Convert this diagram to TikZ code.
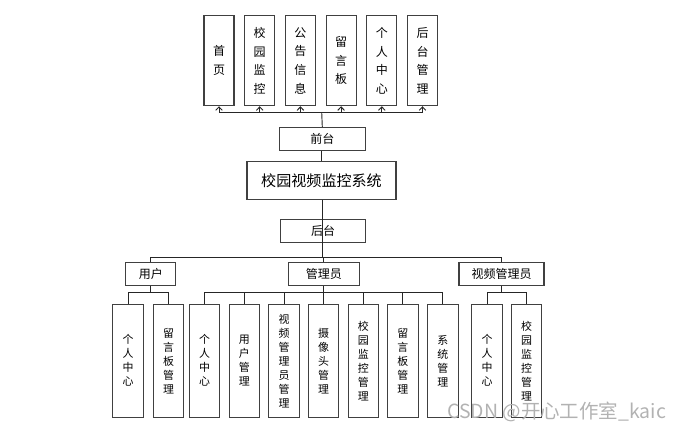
\documentclass[tikz,border=0pt]{standalone}
\usepackage{fontspec}
\setmainfont{Noto Sans CJK SC}
\usetikzlibrary{arrows.meta}
\begin{document}
\begin{tikzpicture}[x=0.75pt, y=-0.75pt,
			box/.style   = {draw=black!75, line width=0.8pt, rectangle, inner sep=0pt, align=center},
			head/.style  = {box, minimum height=23pt*0.75, font=\fontsize{9pt}{11pt}\selectfont},
			title/.style = {box, minimum width=149pt*0.75, minimum height=37.6pt*0.75, font=\fontsize{11.3pt}{13pt}\selectfont},
			page/.style  = {box, minimum width=30pt*0.75, minimum height=90pt*0.75, font=\fontsize{9pt}{14pt}\selectfont},
			leaf/.style  = {box, minimum width=30.5pt*0.75, minimum height=113.3pt*0.75, font=\fontsize{8.2pt}{10.5pt}\selectfont},
			link/.style  = {draw=black!85, line width=0.7pt},
			>={Straight Barb[length=2.6pt,width=5pt]}]
	\useasboundingbox (0,0) rectangle (680,433);

	% front end pages
	\node[page] (t1) at (219,60.7)   {首\\页};
	\node[page] (t2) at (259.7,60.7) {校\\园\\监\\控};
	\node[page] (t3) at (300.4,60.7) {公\\告\\信\\息};
	\node[page] (t4) at (341.1,60.7) {留\\言\\板};
	\node[page] (t5) at (381.8,60.7) {个\\人\\中\\心};
	\node[page] (t6) at (422.5,60.7) {后\\台\\管\\理};

	% spine of the system
	\node[head, minimum width=85.5pt*0.75] (qt) at (322.3,139) {前台};
	\node[title] (sys) at (321.5,180.5) {校园视频监控系统};
	\node[head, minimum width=85pt*0.75] (ht) at (323,230.7) {后台};

	% roles
	\node[head, minimum width=50.3pt*0.75] (r1) at (150.8,274.3) {用户};
	\node[head, minimum width=71pt*0.75]   (r2) at (323.8,274.3) {管理员};
	\node[head, minimum width=85pt*0.75]   (r3) at (501.5,274.3) {视频管理员};

	% functions of each role
	\begin{scope}[every node/.style={leaf}]
		\node (r11) at (128,360.7)   {个\\人\\中\\心};
		\node (r12) at (168.7,360.7) {留\\言\\板\\管\\理};

		\node (r21) at (204.7,360.7) {个\\人\\中\\心};
		\node (r22) at (244.3,360.7) {用\\户\\管\\理};
		\node (r23) at (284,360.7)   {视\\频\\管\\理\\员\\管\\理};
		\node (r24) at (323.5,360.7) {摄\\像\\头\\管\\理};
		\node (r25) at (363.3,360.7) {校\\园\\监\\控\\管\\理};
		\node (r26) at (402.8,360.7) {留\\言\\板\\管\\理};
		\node (r27) at (442.8,360.7) {系\\统\\管\\理};

		\node (r31) at (487,360.7)   {个\\人\\中\\心};
		\node (r32) at (526.7,360.7) {校\\园\\监\\控\\管\\理};
	\end{scope}

	% forks
	\coordinate (f0) at (321.7,112.3);
	\coordinate (f1) at (322.7,257.3);
	\coordinate (f2) at (150.8,292.7);
	\coordinate (f3) at (323.8,292.7);
	\coordinate (f4) at (501.7,292.7);

	% arrows from the front end to its pages
	\draw[link] (qt.north) -- (f0);
	\foreach \value in {1,...,6}
	\draw[link,->] (f0) -| (t\value.south);

	\draw[link] (qt.south -| sys.north) -- (sys.north);
	\draw[link] (sys.south -| f1) -- (ht.south -| f1) -- (f1);
	\foreach \value in {1,...,3}
	\draw[link] (f1) -| (r\value.north);

	% lines from each role to every one of its functions
	\draw[link] (r1.south) -- (f2);
	\foreach \value in {1,2}
	\draw[link] (f2) -| (r1\value.north);

	\draw[link] (r2.south) -- (f3);
	\foreach \value in {1,...,7}
	\draw[link] (f3) -| (r2\value.north);

	\draw[link] (r3.south -| f4) -- (f4);
	\foreach \value in {1,2}
	\draw[link] (f4) -| (r3\value.north);

	% watermark
	\node[text=black!30, font=\fontsize{14.6pt}{16pt}\selectfont, inner sep=0pt, anchor=west] (wm) at (447,412) {CSDN @开心工作室\_kaic};
\end{tikzpicture}
\end{document}
